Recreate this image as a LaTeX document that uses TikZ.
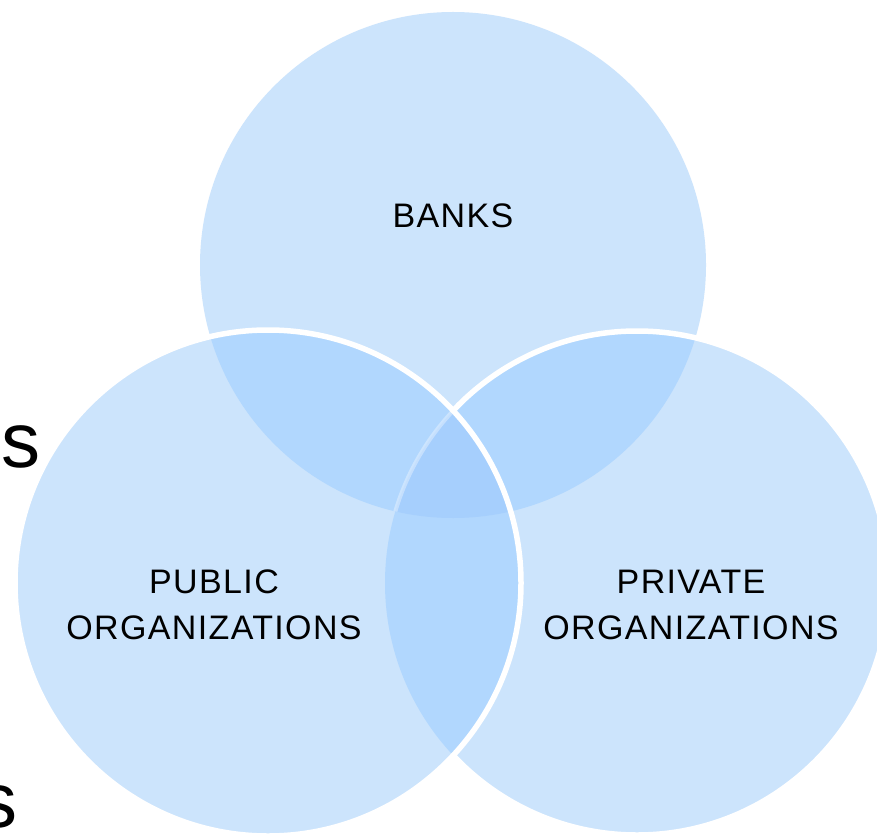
\documentclass[tikz,border=0pt]{standalone}
\usepackage{fontspec}
\setmainfont{Liberation Sans}
\definecolor{cOne}{RGB}{204,228,252}
\definecolor{cTwo}{RGB}{177,215,254}
\definecolor{cThree}{RGB}{166,207,253}
\tikzset{
  lbl/.style={inner sep=0pt, align=center, text=black,
    font=\fontsize{34}{46}\selectfont\addfontfeatures{LetterSpace=4}},
  bigs/.style={inner sep=0pt, anchor=base west, text=black,
    font=\fontsize{78}{80}\selectfont},
  rim/.style={draw=white, line width=5.5pt}
}
\begin{document}
\begin{tikzpicture}[x=1pt,y=-1pt]
\clip (0,0) rectangle (877,834);
\fill[white] (0,0) rectangle (877,834);
\coordinate (T) at (453,265);
\coordinate (L) at (268,583);
\coordinate (R) at (637,583);
% base fills
\fill[cOne] (T) circle[radius=253pt];
\fill[cOne] (L) circle[radius=253pt];
\fill[cOne] (R) circle[radius=252pt];
% pair overlaps
\begin{scope}
  \clip (T) circle[radius=253pt];
  \fill[cTwo] (L) circle[radius=253pt];
  \fill[cTwo] (R) circle[radius=252pt];
\end{scope}
\begin{scope}
  \clip (L) circle[radius=253pt];
  \fill[cTwo] (R) circle[radius=252pt];
\end{scope}
% triple
\begin{scope}
  \clip (T) circle[radius=253pt];
  \clip (L) circle[radius=253pt];
  \fill[cThree] (R) circle[radius=252pt];
\end{scope}
% right circle rim, hidden under left circle
\begin{scope}[even odd rule]
  \clip (-10,-10) rectangle (900,900) (L) circle[radius=253pt];
  \draw[rim] (R) circle[radius=252pt];
\end{scope}
% faint trace of right rim inside top and left
\begin{scope}
  \clip (T) circle[radius=253pt];
  \clip (L) circle[radius=253pt];
  \draw[draw=white, line width=4pt, opacity=0.35] (R) circle[radius=252pt];
\end{scope}
% left circle rim
\draw[rim] (L) circle[radius=253pt];
% labels
\node[lbl] (banks) at (453,216) {BANKS};
\node[lbl] (pub) at (214,605) {PUBLIC\\ORGANIZATIONS};
\node[lbl] (priv) at (691,605) {PRIVATE\\ORGANIZATIONS};
\node[bigs] (s1) at (1,467) {s};
\node[bigs] (s2) at (-22,827) {s};
\end{tikzpicture}
\end{document}
